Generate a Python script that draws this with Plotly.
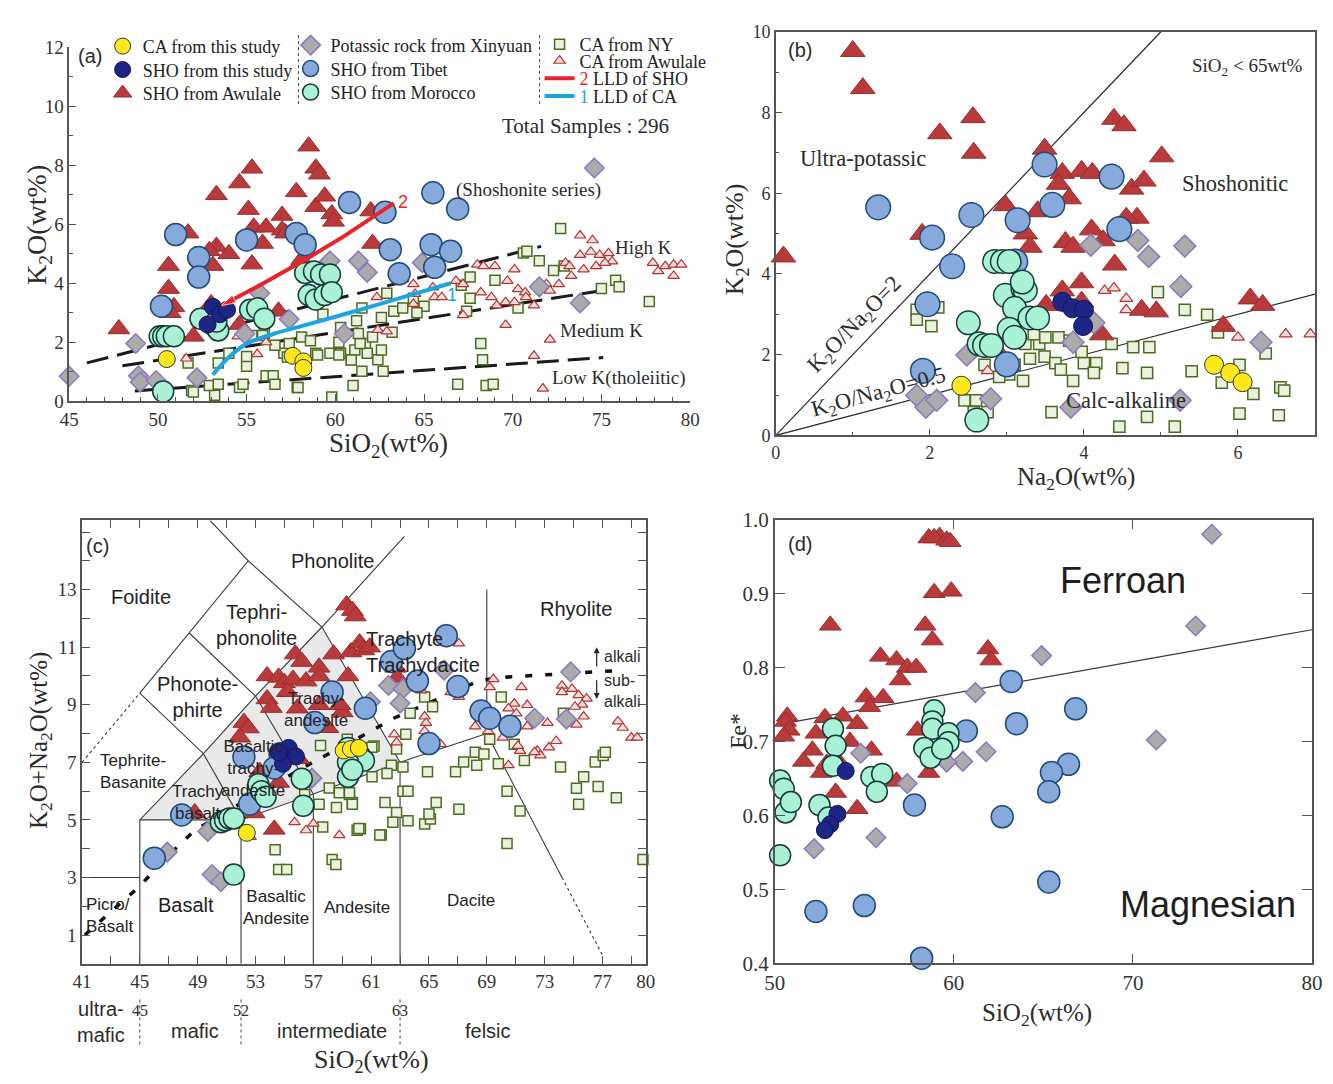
import plotly.graph_objects as go

# ---------------- Panel (a): SiO2 vs K2O ----------------
A_AWU_SHO_X = [47.8, 50.6, 50.6, 50.9, 50.7, 51.7, 52.0, 53.3, 54.6, 55.3, 55.1, 55.4, 55.9, 56.1, 55.3, 53.3, 52.9, 54.0, 53.1, 57.8,
               57.0, 57.0, 57.2, 58.5, 58.9, 59.1, 58.9, 59.4, 59.8, 59.9, 58.1, 56.8, 54.6, 62.1, 62.0, 53.0]
A_AWU_SHO_Y = [2.45, 4.6, 3.82, 3.2, 3.0, 5.7, 2.2, 7.0, 7.4, 7.9, 6.5, 5.9, 5.35, 5.9, 4.65, 5.25, 5.1, 5.0, 4.6, 7.1,
               6.3, 5.8, 5.7, 8.65, 7.9, 7.7, 6.6, 6.95, 6.35, 6.1, 4.8, 3.05, 2.6, 5.35, 6.45, 3.3]
A_TIBET_X = [51.0, 52.3, 52.3, 50.2, 55.0, 57.8, 58.3, 60.8, 62.8, 63.1, 63.6, 65.5, 65.4, 66.5, 65.6, 66.9]
A_TIBET_Y = [5.65, 4.87, 4.21, 3.22, 5.47, 5.69, 5.31, 6.74, 6.41, 5.14, 4.32, 7.07, 5.31, 5.09, 4.54, 6.52]
A_MOR_X = [50.1, 50.3, 50.5, 50.9, 52.4, 53.2, 53.4, 53.3, 55.2, 55.6, 56.0, 58.3, 58.8, 59.2, 59.7, 58.5, 58.9, 59.4, 59.8, 50.3]
A_MOR_Y = [2.2, 2.2, 2.2, 2.2, 2.8, 2.55, 2.4, 2.7, 3.1, 3.15, 2.8, 4.35, 4.4, 4.3, 4.3, 3.6, 3.45, 3.6, 3.7, 0.33]
A_SHO_THIS_X = [53.1, 53.5, 53.9, 52.8]
A_SHO_THIS_Y = [3.2, 2.95, 3.1, 2.6]
A_CA_THIS_X = [50.5, 57.6, 58.2, 58.2]
A_CA_THIS_Y = [1.43, 1.54, 1.35, 1.13]
A_XIN_X = [45.0, 48.75, 48.9, 49.0, 49.9, 52.2, 54.9, 55.75, 57.4, 59.7, 60.5, 61.3, 61.8, 64.9, 71.5, 73.8, 74.6]
A_XIN_Y = [0.85, 1.96, 0.86, 0.65, 0.7, 0.8, 2.29, 3.66, 2.78, 4.76, 2.29, 4.76, 4.37, 4.7, 3.88, 3.33, 7.91]
A_NY_X = [51.7, 51.9, 53.2, 52.9, 53.4, 53.4, 54.0, 54.6, 54.8, 55.0, 55.0, 55.3, 56.0, 56.1, 56.5, 56.6, 57.1, 57.4, 57.85, 58.1,
          58.9, 59.3, 59.7, 59.8, 60.3, 60.3, 60.9, 61.0, 61.1, 61.2, 61.5, 61.5, 61.7, 61.8, 62.1, 62.4, 62.6, 62.7, 62.6, 62.9,
          63.2, 63.3, 63.8, 64.4, 65.0, 64.6, 66.9, 67.1, 67.6, 67.6, 67.4, 68.2, 68.3, 68.5, 68.9, 69.0, 70.3, 70.6, 70.8, 71.5,
          72.3, 72.7, 72.9, 75.0, 75.8, 76.0, 77.7, 52.0, 55.9, 57.9, 59.0, 60.2, 60.9, 60.2, 61.4, 56.6, 57.3, 61.3, 58.6]
A_NY_Y = [1.30, 0.36, 0.20, 0.53, 0.58, 1.30, 1.63, 0.47, 0.58, 1.19, 1.52, 2.23, 2.29, 0.86, 0.86, 0.58, 1.63, 1.96, 0.47, 2.18,
          1.63, 2.95, 1.63, 0.14, 1.63, 2.5, 1.41, 0.53, 1.74, 2.73, 1.02, 3.16, 1.96, 1.63, 2.18, 1.41, 1.74, 1.02, 2.84, 3.66,
          2.34, 3.05, 3.16, 3.49, 3.22, 3.0, 0.58, 3.93, 4.21, 3.49, 3.05, 1.96, 1.41, 0.53, 0.58, 4.1, 3.16, 5.03, 5.09, 4.76,
          4.43, 5.86, 4.59, 3.82, 4.1, 3.88, 3.38, 0.31, 2.23, 0.47, 1.57, 1.57, 1.4, 2.0, 1.96, 1.9, 1.5, 2.3, 2.05]
A_CAAWU_X = [62.34, 64.4, 64.5, 64.4, 65.5, 65.6, 66.0, 66.8, 67.2, 68.0, 68.35, 69.0, 68.2, 68.8, 69.1, 69.6, 70.1, 69.7, 70.1, 70.3,
             70.7, 70.75, 71.2, 69.6, 67.2, 62.4, 62.9, 71.9, 72.1, 72.6, 72.97, 73.2, 73.3, 74.0, 73.8, 74.5, 73.8, 74.4, 74.9, 75.4,
             75.6, 74.7, 75.2, 77.9, 78.2, 78.6, 79.07, 79.5, 79.07, 72.1, 71.2, 71.7, 51.6, 54.5, 55.6, 56.1]
A_CAAWU_Y = [3.53, 3.97, 3.64, 3.3, 3.86, 3.53, 3.53, 4.08, 3.97, 4.63, 4.58, 4.58, 3.69, 3.53, 3.25, 3.36, 3.36, 4.08, 4.47, 3.8,
             3.69, 3.53, 3.25, 2.59, 2.92, 2.42, 2.37, 3.97, 3.75, 3.97, 4.69, 4.58, 4.25, 4.47, 5.62, 5.46, 4.96, 5.07, 4.96, 5.02,
             4.74, 4.58, 4.69, 4.69, 4.41, 4.58, 4.63, 4.63, 4.25, 2.09, 1.54, 0.43, 1.45, 2.2, 1.6, 2.0]
# series boundaries (dashed) and LLD trends
A_BND1_X, A_BND1_Y = [46.0, 71.6], [1.3, 5.25]
A_BND2_X, A_BND2_Y = [48.0, 75.0], [1.2, 3.75]
A_BND3_X, A_BND3_Y = [48.7, 75.1], [0.35, 1.48]
LLD_SHO_X = [63.3, 60.5, 58.3, 55.8, 53.6]
LLD_SHO_Y = [6.72, 5.6, 4.8, 3.95, 3.25]
LLD_CA_X = [53.1, 53.6, 54.2, 55.0, 56.5, 58.4, 60.8, 63.2, 66.5]
LLD_CA_Y = [0.9, 1.25, 1.6, 1.95, 2.28, 2.6, 3.0, 3.42, 4.0]

# ---------------- Panel (b): Na2O vs K2O ----------------
B_AWU_SHO_X = [1.0, 1.13, 0.1, 2.13, 2.56, 2.57, 1.9, 2.98, 3.49, 3.72, 3.97, 4.11, 3.67, 3.81, 3.53, 3.4, 3.24, 3.3, 3.76, 3.86,
               4.1, 4.25, 4.39, 4.52, 4.62, 4.78, 5.01, 4.69, 4.55, 3.97, 4.4, 3.72, 3.51, 3.97, 4.75, 4.94, 4.23, 5.81, 6.16, 6.32, 2.85]
B_AWU_SHO_Y = [9.52, 8.6, 4.43, 7.48, 7.88, 7.0, 4.99, 5.7, 7.1, 6.5, 6.55, 6.5, 6.23, 5.87, 5.63, 5.55, 5.0, 4.67, 4.79, 4.67,
               5.1, 4.83, 7.84, 7.68, 6.11, 6.31, 6.91, 5.39, 5.39, 3.79, 4.23, 3.59, 3.23, 3.31, 3.11, 3.07, 2.5, 2.71, 3.39, 3.23, 2.15]
B_TIBET_X = [1.33, 2.03, 2.29, 1.97, 1.91, 2.54, 3.14, 3.11, 3.49, 3.59, 4.36, 4.46, 3.0]
B_TIBET_Y = [5.65, 4.9, 4.19, 3.25, 1.6, 5.46, 5.33, 4.31, 6.71, 5.71, 6.41, 5.11, 1.76]
B_MOR_X = [2.84, 2.94, 3.03, 2.98, 3.21, 3.24, 3.1, 3.3, 3.4, 3.03, 3.1, 2.5, 2.64, 2.71, 2.8, 2.61, 3.2]
B_MOR_Y = [4.31, 4.31, 4.31, 3.47, 3.63, 3.59, 3.15, 2.91, 2.91, 2.63, 2.43, 2.79, 2.27, 2.23, 2.23, 0.38, 3.8]
B_SHO_THIS_X = [3.72, 3.85, 4.0, 3.99]
B_SHO_THIS_Y = [3.31, 3.15, 3.11, 2.71]
B_CA_THIS_X = [2.41, 5.69, 5.9, 6.06]
B_CA_THIS_Y = [1.23, 1.75, 1.55, 1.32]
B_XIN_X = [1.83, 1.95, 2.09, 2.48, 2.79, 3.86, 3.83, 4.09, 4.13, 4.7, 4.84, 5.31, 5.26, 5.25, 6.3]
B_XIN_Y = [0.99, 0.7, 0.87, 1.99, 0.91, 2.31, 0.7, 4.71, 2.79, 4.83, 4.43, 4.69, 3.69, 0.87, 2.31]
B_CAAWU_X = [2.75, 4.27, 4.39, 4.55, 4.55, 6.0, 6.62, 6.94]
B_CAAWU_Y = [1.6, 3.59, 3.65, 3.39, 3.11, 2.43, 2.51, 2.51]
B_NY_X = [1.83, 2.11, 1.83, 2.02, 2.45, 2.6, 2.57, 2.75, 2.71, 3.03, 3.21, 3.1, 3.24, 3.42, 3.49, 3.63, 3.7, 3.86, 4.0, 4.16,
          4.13, 3.81, 3.97, 4.36, 4.64, 4.85, 4.5, 4.82, 4.82, 4.46, 5.18, 3.58, 4.96, 5.31, 5.6, 5.74, 5.4, 5.79, 6.02, 6.2,
          6.02, 6.36, 6.55, 6.6, 6.53, 3.35, 3.5, 3.67, 2.9, 3.3]
B_NY_Y = [3.11, 3.17, 2.87, 2.71, 0.87, 0.87, 0.58, 0.58, 1.75, 1.51, 1.35, 1.75, 2.27, 2.27, 1.95, 1.79, 1.63, 1.35, 1.79, 1.79,
          1.55, 2.35, 2.07, 2.27, 2.19, 2.19, 1.67, 1.55, 0.46, 0.22, 0.22, 0.58, 3.55, 3.11, 2.99, 2.55, 1.59, 1.31, 1.75, 1.03,
          0.54, 2.03, 1.19, 1.11, 0.5, 2.51, 2.43, 2.43, 1.45, 1.9]
B_RATIO2_X, B_RATIO2_Y = [0, 5.0], [0, 10.0]
B_RATIO05_X, B_RATIO05_Y = [0, 7.0], [0, 3.5]

# ---------------- Panel (c): TAS ----------------
C_AWU_SHO_X = [59.3, 59.7, 59.9, 55.75, 56.2, 57.4, 58.4, 59.6, 60.2, 60.5, 60.9, 53.8, 54.6, 55.0, 55.6, 56.5, 57.4, 59.4, 53.8, 54.1,
               55.2, 55.9, 57.4, 59.0, 58.0, 52.2, 52.5, 51.9, 56.0, 54.6, 52.9, 54.3, 48.8, 62.7, 62.8, 58.85, 53.3]
C_AWU_SHO_Y = [12.46, 12.27, 12.08, 10.76, 10.5, 10.3, 10.76, 10.83, 11.14, 10.9, 11.0, 10.0, 9.95, 9.76, 9.88, 9.82, 10.0, 10.0, 9.2, 8.9,
               9.45, 8.88, 9.0, 8.75, 8.2, 8.38, 8.19, 7.87, 7.12, 6.3, 5.24, 4.67, 5.24, 10.3, 9.95, 9.0, 6.67]
C_TIBET_X = [46.0, 47.9, 52.2, 54.7, 54.3, 52.6, 57.1, 58.3, 60.6, 62.4, 63.3, 66.2, 64.2, 67.0, 68.6, 69.2, 70.6, 65.0]
C_TIBET_Y = [3.67, 5.17, 7.18, 7.3, 6.8, 5.55, 8.38, 9.44, 8.88, 10.5, 10.95, 11.4, 9.82, 9.63, 8.78, 8.53, 8.25, 7.65]
C_MOR_X = [50.6, 50.9, 51.2, 51.5, 53.2, 53.4, 53.7, 56.2, 56.3, 51.5, 59.4, 60.2, 60.5, 59.4, 59.4, 59.7]
C_MOR_Y = [4.92, 4.98, 5.05, 5.05, 6.24, 5.99, 5.8, 6.43, 5.49, 3.1, 7.5, 7.25, 7.06, 7.0, 6.5, 6.74]
C_SHO_THIS_X = [55.3, 55.8, 54.9, 54.6]
C_SHO_THIS_Y = [7.5, 7.2, 6.95, 7.35]
C_CA_THIS_X = [52.4, 59.1, 59.6, 60.15]
C_CA_THIS_Y = [4.55, 7.41, 7.46, 7.5]
C_XIN_X = [46.9, 49.7, 50.0, 50.6, 56.9, 60.95, 62.2, 63.2, 63.0, 66.05, 72.3, 74.5, 74.8, 58.4]
C_XIN_Y = [3.88, 4.6, 3.1, 2.85, 6.45, 9.1, 9.67, 9.55, 9.05, 10.2, 8.53, 8.5, 10.14, 9.38]
C_CAAWU_X = [67.07, 69.45, 69.2, 71.4, 70.9, 71.8, 70.5, 71.04, 68.2, 69.1, 70.1, 71.8, 73.2, 73.8, 73.3, 72.5, 72.7, 72.3, 71.3, 71.15,
             70.5, 74.2, 74.9, 75.35, 75.9, 75.6, 75.1, 75.7, 75.2, 78.07, 78.4, 79.0, 79.4, 74.2, 62.6, 62.76, 64.7, 64.8, 64.7, 65.8,
             64.46, 66.5, 67.07, 55.7, 56.5, 57.0, 58.8, 52.66]
C_CAAWU_Y = [11.13, 9.89, 9.61, 9.61, 9.04, 8.99, 8.87, 8.7, 8.25, 8.08, 7.86, 8.25, 8.37, 7.74, 7.52, 7.4, 7.24, 7.35, 7.4, 7.57,
             6.9, 9.66, 9.55, 9.33, 9.21, 9.0, 8.93, 8.59, 8.31, 8.42, 8.2, 7.86, 7.86, 9.44, 7.97, 7.69, 8.59, 8.37, 8.08, 7.63,
             9.5, 9.44, 9.27, 4.92, 4.64, 4.87, 4.47, 4.41]
C_NY_X = [64.7, 65.25, 63.7, 63.4, 62.76, 61.2, 62.4, 63.2, 62.1, 61.06, 64.9, 63.2, 63.55, 61.96, 62.76, 62.5, 63.55, 64.7, 65.1, 65.0,
          65.5, 60.03, 60.26, 61.7, 59.7, 59.5, 67.07, 66.84, 67.4, 68.2, 68.8, 68.3, 69.8, 69.2, 70.0, 70.9, 71.6, 70.4, 71.3, 70.4,
          74.1, 74.3, 75.2, 75.7, 75.35, 76.7, 76.5, 77.05, 77.2, 77.96, 79.8, 54.36, 54.6, 55.16, 57.5, 59.35, 61.05, 58.1, 58.8, 59.5,
          57.4, 58.6, 59.7, 56.5, 56.4, 57.65, 58.3, 58.56, 60.15, 61.6]
C_NY_Y = [9.27, 8.93, 8.7, 7.97, 7.46, 7.57, 6.9, 6.84, 6.61, 6.5, 6.67, 5.99, 5.99, 5.6, 5.26, 4.92, 4.97, 4.86, 5.03, 5.2,
          5.6, 4.64, 4.69, 4.47, 5.6, 5.88, 5.37, 6.67, 7.01, 7.35, 7.29, 6.9, 6.95, 7.8, 9.27, 7.63, 7.06, 5.99, 5.31, 4.18,
          6.84, 8.7, 6.1, 6.5, 5.54, 6.16, 7.01, 7.24, 7.35, 5.77, 3.62, 3.96, 3.28, 3.28, 7.58, 7.8, 7.52, 6.11, 5.94, 5.94,
          5.54, 5.43, 5.54, 5.54, 5.88, 4.75, 3.62, 3.45, 4.7, 4.47]
# TAS field boundaries
TAS_LINES = [
    ([41, 45], [3, 3]),
    ([45, 45, 49.4, 45], [0, 5, 7.3, 9.4]),
    ([45, 48.4, 52.5, 49.85], [9.4, 11.5, 14.0, 15.4]),
    ([49.4, 52], [7.3, 5]),
    ([45, 52, 57, 63, 69], [5, 5, 5.9, 7, 8]),
    ([52, 52], [0, 5]),
    ([57, 57], [0, 5.9]),
    ([63, 63], [0, 7]),
    ([49.4, 53, 57.6, 63.3], [7.3, 9.3, 11.7, 14.85]),
    ([48.4, 53, 57], [11.5, 9.3, 5.9]),
    ([52.5, 57.6, 63], [14.0, 11.7, 7]),
    ([69, 69], [8, 13]),
    ([69, 74.2], [8, 3.0]),
]
TAS_DOTTED = [([41, 45], [7, 9.4]), ([74.2, 77.0], [3.0, 0.3])]
TAS_SHADE_X = [45, 52, 57, 63, 57.6, 53, 49.4, 45]
TAS_SHADE_Y = [5, 5, 5.9, 7, 11.7, 9.3, 7.3, 5]
C_ALK_X = [41.2, 43.0, 45.0, 46.8, 48.8, 51.5, 55.0, 57.0, 60.8, 62.6, 65.6, 68.5, 70.0, 78.5]
C_ALK_Y = [1.0, 1.8, 2.7, 3.68, 4.64, 5.43, 6.45, 7.01, 8.03, 8.54, 9.2, 9.84, 9.95, 10.2]

# ---------------- Panel (d): SiO2 vs Fe* ----------------
D_AWU_SHO_X = [58.6, 59.2, 58.9, 59.6, 59.8, 58.9, 59.85, 58.4, 58.8, 53.1, 55.9, 56.8, 57.4, 57.9, 57.0, 61.9, 62.07, 55.1, 56.05, 55.3,
               50.7, 50.6, 50.8, 50.5, 52.8, 53.8, 54.6, 52.3, 54.2, 52.1, 51.6, 55.4, 52.6, 53.4, 54.6, 56.8, 57.96, 58.6, 52.9, 53.4]
D_AWU_SHO_Y = [0.975, 0.977, 0.975, 0.972, 0.97, 0.901, 0.903, 0.857, 0.837, 0.857, 0.815, 0.81, 0.80, 0.80, 0.783, 0.825, 0.81, 0.76, 0.759, 0.747,
               0.734, 0.727, 0.715, 0.707, 0.732, 0.734, 0.724, 0.711, 0.70, 0.688, 0.673, 0.688, 0.658, 0.631, 0.609, 0.646, 0.715, 0.658, 0.67, 0.678]
D_TIBET_X = [63.2, 63.5, 66.8, 60.7, 66.4, 65.45, 65.3, 62.7, 57.8, 52.3, 55.0, 65.3, 58.2]
D_TIBET_Y = [0.781, 0.724, 0.744, 0.714, 0.669, 0.658, 0.632, 0.598, 0.614, 0.47, 0.478, 0.51, 0.407]
D_MOR_X = [50.3, 50.5, 50.6, 50.9, 50.3, 52.5, 53.25, 53.4, 53.25, 55.4, 56.0, 55.7, 58.9, 58.8, 58.8, 58.35, 58.7, 59.7, 59.7, 59.35, 53.0]
D_MOR_Y = [0.647, 0.636, 0.604, 0.618, 0.546, 0.614, 0.717, 0.694, 0.667, 0.652, 0.656, 0.632, 0.742, 0.727, 0.717, 0.691, 0.678, 0.711, 0.699, 0.69, 0.597]
D_SHO_THIS_X = [53.96, 53.5, 53.1, 52.8]
D_SHO_THIS_Y = [0.66, 0.602, 0.588, 0.58]
D_XIN_X = [74.4, 73.5, 64.9, 61.2, 61.8, 60.5, 59.6, 54.8, 57.4, 55.65, 52.2, 71.3]
D_XIN_Y = [0.98, 0.856, 0.816, 0.766, 0.686, 0.673, 0.672, 0.684, 0.643, 0.57, 0.555, 0.702]
D_LINE_X, D_LINE_Y = [50.7, 80], [0.725, 0.851]

# ---------------- styles ----------------
SERIF = "Liberation Serif, Times New Roman, serif"
SANS = "Liberation Sans, Arial, sans-serif"
INK = "#2b2b2b"
AX = "#555555"

STYLE = {
    "ny":      dict(symbol="square", size=10, color="#EBF2E0", lc="#4E6B22", lw=1.5),
    "caawu":   dict(symbol="triangle-up", size=10, color="#F8DEDE", lc="#B2332F", lw=1.2),
    "awusho":  dict(symbol="triangle-up", size=19, color="#B93A3B", lc="#9A2B2D", lw=1),
    "xin":     dict(symbol="diamond", size=15, color="#ABABAB", lc="#8B78C2", lw=1.5),
    "tibet":   dict(symbol="circle", size=22, color="#86AADC", lc="#1F4A7A", lw=1.5),
    "mor":     dict(symbol="circle", size=21, color="#AAF2D6", lc="#173A3A", lw=1.5),
    "shothis": dict(symbol="circle", size=17, color="#1D2587", lc="#111652", lw=1),
    "cathis":  dict(symbol="circle", size=17, color="#FFE81A", lc="#333333", lw=1),
}
NAMES = {
    "cathis": "CA from this study", "shothis": "SHO from this study", "awusho": "SHO from Awulale",
    "xin": "Potassic rock from Xinyuan", "tibet": "SHO from Tibet", "mor": "SHO from Morocco",
    "ny": "CA from NY", "caawu": "CA from Awulale",
}
# one legend box per entry, so each row can sit where the reference puts it
# (page pixel of the symbol centre x, row centre y)
LEGPOS = {"cathis": ("legend", 112, 35), "shothis": ("legend2", 112, 59), "awusho": ("legend3", 112, 83),
          "xin": ("legend4", 303, 34), "tibet": ("legend5", 303, 58), "mor": ("legend6", 303, 82),
          "ny": ("legend7", 556, 33), "caawu": ("legend8", 556, 50),
          "lldsho": ("legend9", 556, 68), "lldca": ("legend10", 556, 86)}

# page is rendered with the browser's 8px body margin around the figure
OFF = 8
W, H = 1333 - 2 * OFF, 1084 - 2 * OFF


def PX(px):
    return min(1.0, max(0.0, (px - OFF) / W))


def PY(py):
    return min(1.0, max(0.0, 1 - (py - OFF) / H))


fig = go.Figure()


def add_pts(key, xs, ys, n, scale=1.0, show=False):
    st = STYLE[key]
    fig.add_trace(go.Scatter(
        x=xs, y=ys, xaxis="x" + n, yaxis="y" + n, mode="markers", name=NAMES[key],
        showlegend=show, legend=LEGPOS[key][0], cliponaxis=False, hoverinfo="skip",
        marker=dict(symbol=st["symbol"], size=st["size"] * scale, color=st["color"],
                    line=dict(color=st["lc"], width=st["lw"]))))


def add_line(xs, ys, n, color=INK, width=1.2, dash="solid"):
    fig.add_trace(go.Scatter(x=xs, y=ys, xaxis="x" + n, yaxis="y" + n, mode="lines",
                             showlegend=False, hoverinfo="skip", cliponaxis=False,
                             line=dict(color=color, width=width, dash=dash)))


# ---- panel (a) ----
for xs, ys in [(A_BND1_X, A_BND1_Y), (A_BND2_X, A_BND2_Y), (A_BND3_X, A_BND3_Y)]:
    add_line(xs, ys, "", color="#1a1a1a", width=3, dash="22px,9px")
add_pts("ny", A_NY_X, A_NY_Y, "", show=True)
add_pts("caawu", A_CAAWU_X, A_CAAWU_Y, "", show=True)
add_pts("awusho", A_AWU_SHO_X, A_AWU_SHO_Y, "", show=True)
add_pts("xin", A_XIN_X, A_XIN_Y, "", show=True)
add_pts("tibet", A_TIBET_X, A_TIBET_Y, "", show=True)
add_pts("mor", A_MOR_X, A_MOR_Y, "", show=True)
add_pts("shothis", A_SHO_THIS_X, A_SHO_THIS_Y, "", show=True)
add_pts("cathis", A_CA_THIS_X, A_CA_THIS_Y, "", show=True)
fig.add_trace(go.Scatter(x=LLD_SHO_X, y=LLD_SHO_Y, xaxis="x", yaxis="y", mode="lines",
                         name="<span style='color:#E8242A'>2</span> LLD of SHO", legend="legend9",
                         line=dict(color="#E8242A", width=4), hoverinfo="skip"))
fig.add_trace(go.Scatter(x=LLD_SHO_X[-2:], y=LLD_SHO_Y[-2:], xaxis="x", yaxis="y", mode="markers",
                         showlegend=False, hoverinfo="skip", cliponaxis=False,
                         marker=dict(symbol="arrow", angleref="previous", size=[0, 15], color="#E8242A")))
fig.add_trace(go.Scatter(x=LLD_CA_X, y=LLD_CA_Y, xaxis="x", yaxis="y", mode="lines", line_shape="spline",
                         name="<span style='color:#1BA5E2'>1</span> LLD of CA", legend="legend10",
                         line=dict(color="#1BA5E2", width=4), hoverinfo="skip"))

# ---- panel (b) ----
add_line(B_RATIO2_X, B_RATIO2_Y, "2")
add_line(B_RATIO05_X, B_RATIO05_Y, "2")
SB = 1.12
add_pts("ny", B_NY_X, B_NY_Y, "2", SB)
add_pts("caawu", B_CAAWU_X, B_CAAWU_Y, "2", SB)
add_pts("awusho", B_AWU_SHO_X, B_AWU_SHO_Y, "2", SB)
add_pts("xin", B_XIN_X, B_XIN_Y, "2", SB)
add_pts("tibet", B_TIBET_X, B_TIBET_Y, "2", SB)
add_pts("mor", B_MOR_X, B_MOR_Y, "2", SB)
add_pts("shothis", B_SHO_THIS_X, B_SHO_THIS_Y, "2", SB)
add_pts("cathis", B_CA_THIS_X, B_CA_THIS_Y, "2", SB)

# ---- panel (c) ----
fig.add_trace(go.Scatter(x=TAS_SHADE_X, y=TAS_SHADE_Y, xaxis="x3", yaxis="y3", mode="lines", fill="toself",
                         fillcolor="#E9E9E9", line=dict(width=0), showlegend=False, hoverinfo="skip"))
for xs, ys in TAS_LINES:
    add_line(xs, ys, "3", color="#3a3a3a", width=1.1)
for xs, ys in TAS_DOTTED:
    add_line(xs, ys, "3", color="#3a3a3a", width=1.1, dash="dot")
add_line(C_ALK_X, C_ALK_Y, "3", color="#111111", width=3.5, dash="7px,13px")
add_pts("ny", C_NY_X, C_NY_Y, "3")
add_pts("caawu", C_CAAWU_X, C_CAAWU_Y, "3")
add_pts("awusho", C_AWU_SHO_X, C_AWU_SHO_Y, "3")
add_pts("xin", C_XIN_X, C_XIN_Y, "3")
add_pts("tibet", C_TIBET_X, C_TIBET_Y, "3")
add_pts("mor", C_MOR_X, C_MOR_Y, "3")
add_pts("shothis", C_SHO_THIS_X, C_SHO_THIS_Y, "3")
add_pts("cathis", C_CA_THIS_X, C_CA_THIS_Y, "3")

# ---- panel (d) ----
add_line(D_LINE_X, D_LINE_Y, "4", color="#3a3a3a", width=1.2)
add_pts("awusho", D_AWU_SHO_X, D_AWU_SHO_Y, "4")
add_pts("xin", D_XIN_X, D_XIN_Y, "4")
add_pts("tibet", D_TIBET_X, D_TIBET_Y, "4")
add_pts("mor", D_MOR_X, D_MOR_Y, "4")
add_pts("shothis", D_SHO_THIS_X, D_SHO_THIS_Y, "4")


def dx(p0, p1):
    return [PX(p0), PX(p1)]


def dy(top, bottom):
    return [PY(bottom), PY(top)]


def tf(size):
    return dict(family=SERIF, size=size, color="#333333")


base = dict(showgrid=False, zeroline=False, showline=True, linecolor=AX, linewidth=1.5,
            ticks="inside", tickcolor=AX, tickfont=tf(18))
minor1 = dict(dtick=1, ticklen=4, ticks="inside", tickcolor=AX)

layout = dict(
    width=W, height=H, margin=dict(l=0, r=0, t=0, b=0),
    paper_bgcolor="white", plot_bgcolor="white",
    xaxis=dict(base, domain=dx(59, 690), range=[45, 80], dtick=5, tick0=45, ticklen=7, minor=minor1,
               tickfont=tf(19), anchor="y"),
    yaxis=dict(base, domain=dy(36, 398), range=[0, 12], dtick=2, ticklen=7, minor=minor1,
               tickfont=tf(19), anchor="x"),
    xaxis2=dict(base, domain=dx(777, 1330), range=[0, 7], dtick=2, ticklen=7, mirror=True, minor=minor1, anchor="y2"),
    yaxis2=dict(base, domain=dy(20, 433), range=[0, 10], dtick=2, ticklen=7, mirror=True, minor=minor1, anchor="x2"),
    xaxis3=dict(base, domain=dx(72, 645), range=[41, 80], mirror="ticks", ticklen=8,
                tickvals=list(range(41, 78, 4)) + [80], tickfont=tf(19),
                minor=dict(dtick=2, tick0=41, ticklen=8, ticks="inside", tickcolor=AX), anchor="y3"),
    yaxis3=dict(base, domain=dy(520, 973.5), range=[0, 15.4], mirror="ticks", ticklen=8,
                tickvals=list(range(1, 14, 2)), tickfont=tf(19),
                minor=dict(dtick=1, tick0=0, ticklen=8, ticks="inside", tickcolor=AX), anchor="x3"),
    xaxis4=dict(base, domain=dx(776, 1322), range=[50, 80], dtick=10, mirror="ticks", ticklen=10,
                tickfont=tf(21), anchor="y4"),
    yaxis4=dict(base, domain=dy(519, 973), range=[0.4, 1.0], dtick=0.1, tickformat=".1f",
                mirror="ticks", ticklen=10, tickfont=tf(21), anchor="x4"),
)
legfont = dict(family=SERIF, size=18, color="#222222")
for key, (lname, mx, my) in LEGPOS.items():
    layout[lname] = dict(x=PX(mx - 19), y=PY(my), xanchor="left", yanchor="middle", font=legfont,
                         bgcolor="rgba(0,0,0,0)", itemwidth=30, tracegroupgap=0)
fig.update_layout(**layout)

ann = []


def t(text, x, y, xr, yr, size, fam=SERIF, color=INK, angle=0, xanchor="center", yanchor="middle", align="center"):
    ann.append(dict(text=text, x=x, y=y, xref=xr, yref=yr, showarrow=False, textangle=angle,
                    font=dict(family=fam, size=size, color=color), xanchor=xanchor, yanchor=yanchor, align=align))


# panel (a) texts
t("(a)", 46.2, 11.7, "x", "y", 20, SANS)
t("Total Samples : 296", 74.1, 9.33, "x", "y", 21)
t("(Shoshonite series)", 70.9, 7.18, "x", "y", 19)
t("High K", 77.4, 5.2, "x", "y", 19)
t("Medium K", 75.0, 2.4, "x", "y", 19)
t("Low K(tholeiitic)", 76.0, 0.8, "x", "y", 19)
t("2", 63.8, 6.75, "x", "y", 18, SANS, "#E8242A")
t("1", 66.6, 3.6, "x", "y", 18, SANS, "#1BA5E2")
t("K<sub>2</sub>O(wt%)", PX(28), PY(218), "paper", "paper", 28, angle=-90)
t("SiO<sub>2</sub>(wt%)", PX(383), PY(443), "paper", "paper", 27)

# panel (b) texts
t("(b)", 0.32, 9.54, "x2", "y2", 20, SANS)
t("SiO<sub>2</sub> &lt; 65wt%", 6.12, 9.12, "x2", "y2", 19)
t("Ultra-potassic", 1.13, 6.85, "x2", "y2", 22.5)
t("Shoshonitic", 5.96, 6.23, "x2", "y2", 22.5)
t("Calc-alkaline", 4.55, 0.87, "x2", "y2", 22.5)
t("K<sub>2</sub>O/Na<sub>2</sub>O=2", 1.03, 2.74, "x2", "y2", 23, angle=-46)
t("K<sub>2</sub>O/Na<sub>2</sub>O=0.5", 1.34, 1.04, "x2", "y2", 22.5, angle=-15)
t("K<sub>2</sub>O(wt%)", PX(737), PY(232), "paper", "paper", 26, angle=-90)
t("Na<sub>2</sub>O(wt%)", PX(1082), PY(477), "paper", "paper", 25)

# panel (c) texts
t("(c)", 42.1, 14.5, "x3", "y3", 20, SANS)
for txt, x, y, s in [("Foidite", 45.1, 12.75, 20), ("Phonolite", 58.3, 14.0, 20),
                     ("Tephri-<br>phonolite", 53.1, 11.77, 20), ("Phonote-<br>phirte", 49.0, 9.27, 20),
                     ("Tephrite-<br>Basanite", 44.5, 6.67, 17), ("Trachy<br>basalt", 49.05, 5.62, 17),
                     ("Basaltic<br>trachy-<br>andesite", 52.8, 6.77, 17), ("Trachy-<br>andesite", 57.2, 8.82, 17),
                     ("Rhyolite", 75.2, 12.33, 20), ("Basalt", 48.2, 2.03, 20),
                     ("Basaltic<br>Andesite", 54.45, 1.95, 17), ("Andesite", 60.0, 1.94, 17), ("Dacite", 67.9, 2.2, 17)]:
    t(txt, x, y, "x3", "y3", s, SANS, color="#222222")
t("Trachyte<br>Trachydacite", 60.5, 10.83, "x3", "y3", 20, SANS, color="#222222", xanchor="left", align="left")
t("Picro/<br>Basalt", 41.15, 1.68, "x3", "y3", 17, SANS, color="#222222", xanchor="left", align="left")
t("alkali", 76.95, 10.68, "x3", "y3", 16, SANS, xanchor="left")
t("sub-<br>alkali", 76.95, 9.48, "x3", "y3", 16, SANS, xanchor="left", align="left")
ann.append(dict(x=76.6, y=11.0, ax=76.6, ay=10.28, xref="x3", yref="y3", axref="x3", ayref="y3",
                showarrow=True, arrowhead=2, arrowsize=1, arrowwidth=1.2, arrowcolor="#222", text=""))
ann.append(dict(x=76.6, y=9.2, ax=76.6, ay=9.9, xref="x3", yref="y3", axref="x3", ayref="y3",
                showarrow=True, arrowhead=2, arrowsize=1, arrowwidth=1.2, arrowcolor="#222", text=""))
t("ultra-<br>mafic", 42.3, PY(1033), "x3", "paper", 20, SANS)
t("mafic", 48.8, PY(1042), "x3", "paper", 20, SANS)
t("intermediate", 58.3, PY(1042), "x3", "paper", 20, SANS)
t("felsic", 69.1, PY(1042), "x3", "paper", 20, SANS)
for v in [45, 52, 63]:
    t(str(v), v, PY(1021), "x3", "paper", 16)
t("K<sub>2</sub>O+Na<sub>2</sub>O(wt%)", PX(30), PY(745), "paper", "paper", 25, angle=-90)
t("SiO<sub>2</sub>(wt%)", PX(366), PY(1073), "paper", "paper", 26)

# panel (d) texts
t("(d)", 51.4, 0.967, "x4", "y4", 20, SANS)
t("Ferroan", 69.45, 0.917, "x4", "y4", 36, SANS, color="#1e1e1e")
t("Magnesian", 74.2, 0.48, "x4", "y4", 36, SANS, color="#1e1e1e")
t("Fe*", PX(738), PY(735), "paper", "paper", 24, angle=-90)
t("SiO<sub>2</sub>(wt%)", PX(1043), PY(1025), "paper", "paper", 25)

shapes = []
for x in [45, 52, 63]:
    shapes.append(dict(type="line", xref="x3", yref="paper", x0=x, x1=x, y0=PY(1056), y1=PY(1008),
                       line=dict(color="#444", width=1, dash="dot")))
for px in [292, 537]:
    shapes.append(dict(type="line", xref="paper", yref="paper", x0=PX(px), x1=PX(px), y0=PY(94), y1=PY(22),
                       line=dict(color="#444", width=1, dash="dot")))
fig.update_layout(annotations=ann, shapes=shapes)

fig.write_html("out.html", config={"displayModeBar": False})
